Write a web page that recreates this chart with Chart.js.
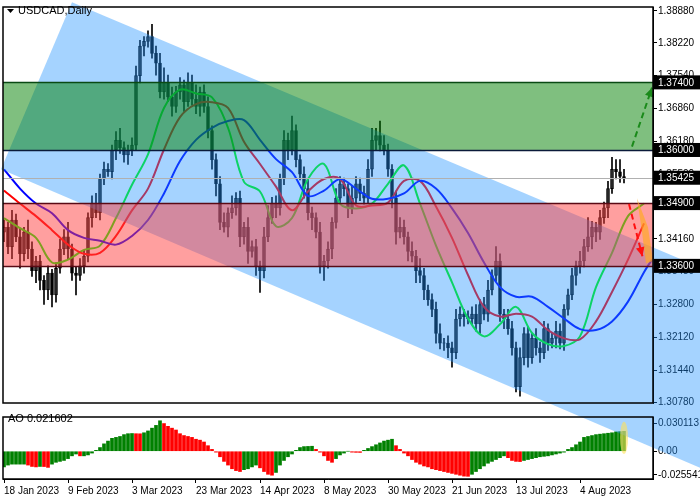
<!DOCTYPE html>
<html>
<head>
<meta charset="utf-8">
<script src="https://cdn.jsdelivr.net/npm/chart.js@4.4.0/dist/chart.umd.min.js"></script>
<style>
  body { margin: 0; background: #fff; }
  #wrap { position: relative; width: 700px; height: 500px; }
  canvas { position: absolute; left: 0; }
</style>
</head>
<body>
<div id="wrap">
  <canvas id="price" width="700" height="410" style="top:0"></canvas>
  <canvas id="ao" width="700" height="90" style="top:410px"></canvas>
</div>
<script>
// --- data --- //
const dateLabels = ['18 Jan 2023', '9 Feb 2023', '3 Mar 2023', '23 Mar 2023', '14 Apr 2023',
    '8 May 2023', '30 May 2023', '21 Jun 2023', '13 Jul 2023', '4 Aug 2023'];
const dateIndex = [0, 16, 32, 48, 64, 80, 96, 112, 128, 144];

const firstOpen = 1.3430;
const closes = [
    1.3440, 1.3400, 1.3455, 1.3420, 1.3385, 1.3430, 1.3395, 1.3350, 1.3370, 1.3330,
    1.3310, 1.3345, 1.3300, 1.3355, 1.3395, 1.3420, 1.3395, 1.3345, 1.3340, 1.3360,
    1.3380, 1.3460, 1.3490, 1.3470, 1.3540, 1.3560, 1.3555, 1.3600, 1.3620, 1.3605,
    1.3590, 1.3600, 1.3610, 1.3754, 1.3815, 1.3825, 1.3835, 1.3800, 1.3780, 1.3720,
    1.3740, 1.3710, 1.3690, 1.3720, 1.3735, 1.3700, 1.3740, 1.3705, 1.3690, 1.3720,
    1.3690, 1.3640, 1.3580, 1.3530, 1.3450, 1.3440, 1.3470, 1.3480, 1.3500, 1.3420,
    1.3440, 1.3390, 1.3400, 1.3360, 1.3350, 1.3420, 1.3460, 1.3490, 1.3480, 1.3540,
    1.3620, 1.3600, 1.3640, 1.3580, 1.3550, 1.3520, 1.3470, 1.3460, 1.3430, 1.3360,
    1.3370, 1.3395, 1.3450, 1.3500, 1.3530, 1.3520, 1.3480, 1.3500, 1.3530, 1.3510,
    1.3500, 1.3560, 1.3620, 1.3630, 1.3610, 1.3600, 1.3560, 1.3500, 1.3430, 1.3440,
    1.3420, 1.3390, 1.3380, 1.3350, 1.3340, 1.3310, 1.3290, 1.3270, 1.3220, 1.3200,
    1.3200, 1.3190, 1.3180, 1.3250, 1.3260, 1.3255, 1.3250, 1.3260, 1.3240, 1.3280,
    1.3260, 1.3310, 1.3340, 1.3370, 1.3260, 1.3250, 1.3230, 1.3190, 1.3110, 1.3170,
    1.3220, 1.3170, 1.3210, 1.3190, 1.3180, 1.3230, 1.3200, 1.3210, 1.3225, 1.3200,
    1.3270, 1.3300, 1.3340, 1.3360, 1.3370, 1.3400, 1.3420, 1.3440, 1.3430, 1.3460,
    1.3480, 1.3520, 1.3560, 1.3555, 1.3545, 1.3542
];
// wick lengths in pips above / below the body
const upWick = [
    15, 10, 20, 12, 18, 10, 25, 15, 10, 12,   10, 15, 8, 12, 20, 15, 30, 10, 12, 15,
    12, 10, 15, 20, 10, 15, 12, 10, 18, 25,   12, 10, 15, 20, 12, 10, 12, 25, 15, 20,
    30, 15, 20, 12, 15, 10, 20, 15, 30, 10,   15, 20, 10, 12, 15, 20, 10, 25, 12, 15,
    10, 20, 12, 15, 10, 20, 25, 12, 15, 10,   20, 15, 30, 12, 10, 15, 20, 12, 10, 20,
    12, 15, 10, 20, 15, 12, 10, 25, 15, 12,   15, 20, 25, 15, 30, 20, 12, 10, 15, 20,
    15, 10, 20, 12, 25, 15, 10, 12, 15, 20,   10, 15, 12, 20, 15, 10, 12, 15, 20, 10,
    15, 20, 12, 30, 15, 10, 20, 15, 12, 20,   12, 15, 10, 20, 12, 15, 10, 12, 20, 15,
    10, 12, 15, 10, 20, 15, 40, 12, 10, 15,   12, 15, 25, 20, 25, 15
];
const downWick = [
    20, 15, 25, 10, 30, 15, 20, 12, 25, 20,   30, 20, 25, 15, 10, 12, 20, 15, 40, 10,
    15, 12, 20, 10, 15, 12, 10, 15, 20, 12,   15, 20, 12, 10, 15, 20, 12, 10, 25, 12,
    15, 10, 20, 12, 15, 20, 10, 12, 15, 20,   12, 15, 20, 25, 15, 10, 20, 12, 15, 20,
    15, 25, 12, 20, 45, 15, 10, 12, 20, 15,   12, 20, 10, 15, 12, 20, 15, 25, 12, 15,
    30, 15, 20, 12, 10, 15, 20, 12, 10, 15,   12, 10, 15, 20, 12, 10, 15, 20, 25, 12,
    15, 20, 12, 25, 15, 20, 12, 15, 20, 12,   15, 20, 30, 12, 15, 20, 10, 12, 15, 20,
    12, 15, 10, 12, 15, 20, 12, 15, 11, 20,   15, 20, 12, 15, 20, 12, 15, 10, 20, 12,
    15, 12, 10, 20, 15, 12, 10, 25, 20, 15,   12, 20, 10, 15, 12, 10
];

// alligator lines, sampled every 4 bars (jaw / teeth / lips)
const lineStep = 4;
const jaw = [
    1.3560, 1.3520, 1.3489, 1.3469, 1.3434, 1.3418, 1.3412, 1.3404, 1.3422, 1.3455,
    1.3510, 1.3577, 1.3621, 1.3646, 1.3660, 1.3662, 1.3621, 1.3581, 1.3554, 1.3505,
    1.3516, 1.3540, 1.3520, 1.3499, 1.3499, 1.3510, 1.3536, 1.3520, 1.3479, 1.3428,
    1.3367, 1.3316, 1.3296, 1.3296, 1.3275, 1.3251, 1.3229, 1.3227, 1.3245, 1.3286,
    1.3347, 1.3373
];
const teeth = [
    1.3516, 1.3489, 1.3463, 1.3434, 1.3404, 1.3385, 1.3387, 1.3422, 1.3475, 1.3520,
    1.3601, 1.3668, 1.3695, 1.3699, 1.3687, 1.3617, 1.3571, 1.3524, 1.3475, 1.3514,
    1.3540, 1.3540, 1.3485, 1.3485, 1.3491, 1.3536, 1.3536, 1.3483, 1.3418, 1.3341,
    1.3275, 1.3255, 1.3261, 1.3255, 1.3227, 1.3210, 1.3208, 1.3245, 1.3306, 1.3373,
    1.3448
];
const lips = [
    1.3459, 1.3438, 1.3418, 1.3367, 1.3373, 1.3393, 1.3402, 1.3459, 1.3528, 1.3591,
    1.3687, 1.3725, 1.3717, 1.3709, 1.3646, 1.3534, 1.3514, 1.3442, 1.3459, 1.3540,
    1.3571, 1.3489, 1.3479, 1.3489, 1.3530, 1.3568, 1.3489, 1.3402, 1.3326, 1.3251,
    1.3214, 1.3239, 1.3275, 1.3221, 1.3198, 1.3194, 1.3214, 1.3316, 1.3387, 1.3463,
    1.3489
];

const aoValues = [
    -0.017, -0.015, -0.014, -0.014, -0.014, -0.014, -0.015, -0.0165, -0.017, -0.0165,
    -0.0166, -0.0175, -0.014, -0.012, -0.011, -0.010, -0.008, -0.005, -0.003, -0.005,
    -0.005, -0.004, -0.002, 0.001, 0.004, 0.008, 0.011, 0.014, 0.015, 0.016,
    0.018, 0.019, 0.0192, 0.019, 0.0189, 0.020, 0.022, 0.025, 0.028, 0.033,
    0.030, 0.027, 0.025, 0.023, 0.019, 0.017, 0.016, 0.015, 0.013, 0.012,
    0.010, 0.006, 0.002, -0.001, -0.006, -0.011, -0.015, -0.019, -0.021, -0.022,
    -0.020, -0.019, -0.017, -0.015, -0.018, -0.022, -0.025, -0.026, -0.023, -0.015,
    -0.010, -0.006, -0.003, 0.001, 0.004, 0.005, 0.0052, 0.0054, 0.002, -0.001,
    -0.005, -0.010, -0.012, -0.008, -0.004, -0.002, 0.0, -0.001, -0.0012, -0.0013,
    0.001, 0.003, 0.005, 0.007, 0.009, 0.011, 0.012, 0.013, 0.006, 0.002,
    -0.002, -0.005, -0.009, -0.012, -0.014, -0.016, -0.017, -0.019, -0.020, -0.021,
    -0.022, -0.023, -0.024, -0.025, -0.026, -0.027, -0.0272, -0.025, -0.022, -0.019,
    -0.016, -0.013, -0.011, -0.009, -0.007, -0.005, -0.007, -0.010, -0.011, -0.0112,
    -0.010, -0.009, -0.008, -0.007, -0.006, -0.0055, -0.005, -0.004, -0.003, -0.002,
    -0.001, 0.002, 0.004, 0.007, 0.010, 0.015, 0.016, 0.017, 0.018, 0.0185,
    0.019, 0.0195, 0.020, 0.021, 0.0212, 0.0216
];

const priceTicks = [1.3078, 1.3144, 1.3212, 1.3280, 1.3348, 1.3416, 1.3482, 1.3550, 1.3618, 1.3686, 1.3754, 1.3822, 1.3888];
const aoTicks = [0.030113, 0, -0.025541];
const greenZone = [1.3600, 1.3740];
const redZone = [1.3360, 1.3490];
const lastPrice = 1.35425;

// --- build datasets --- //
const pip = 0.0001;
const opens = closes.map((c, i) => i === 0 ? firstOpen : closes[i - 1]);
const bodies = closes.map((c, i) => ({ x: i, y: [opens[i], c === opens[i] ? c + 0.00004 : c] }));
const wicks = closes.map((c, i) => ({
    x: i,
    y: [Math.min(opens[i], c) - downWick[i] * pip, Math.max(opens[i], c) + upWick[i] * pip]
}));
const bodyFill = closes.map((c, i) => c >= opens[i] ? '#ffffff' : '#000000');
const sampled = arr => arr.map((v, k) => ({ x: k * lineStep, y: v }));
const jawPts = sampled(jaw);
jawPts[jawPts.length - 1].x = 162;

const font = { family: 'Liberation Sans', size: 10 };
const X_MIN = -0.25, X_MAX = 162.25;

function channel(ctx, xs, ys, dy) {
    const pts = [[17, 1.3906], [174, 1.3357], [174, 1.2942], [-0.75, 1.3560]];
    ctx.beginPath();
    pts.forEach(([i, p], k) => {
        const px = xs.getPixelForValue(i), py = ys.getPixelForValue(p) - dy;
        k ? ctx.lineTo(px, py) : ctx.moveTo(px, py);
    });
    ctx.closePath();
    ctx.fillStyle = 'rgba(30,144,255,0.4)';
    ctx.fill();
}

function dashedArrow(ctx, x1, y1, x2, y2, color) {
    ctx.save();
    ctx.strokeStyle = color; ctx.fillStyle = color; ctx.lineWidth = 2;
    ctx.setLineDash([6, 4]);
    ctx.beginPath(); ctx.moveTo(x1, y1); ctx.lineTo(x2, y2); ctx.stroke();
    ctx.setLineDash([]);
    const a = Math.atan2(y2 - y1, x2 - x1);
    ctx.beginPath();
    ctx.moveTo(x2, y2);
    ctx.lineTo(x2 - 10 * Math.cos(a - 0.45), y2 - 10 * Math.sin(a - 0.45));
    ctx.lineTo(x2 - 10 * Math.cos(a + 0.45), y2 - 10 * Math.sin(a + 0.45));
    ctx.closePath(); ctx.fill();
    ctx.restore();
}

const overlayPlugin = {
    id: 'overlay',
    afterDatasetsDraw(chart) {
        const { ctx, chartArea: a, scales: { x: xs, y: ys } } = chart;
        ctx.save();
        channel(ctx, xs, ys, 0);
        const zone = (r, fill) => {
            ctx.fillStyle = fill;
            ctx.fillRect(a.left, ys.getPixelForValue(r[1]), a.right - a.left, ys.getPixelForValue(r[0]) - ys.getPixelForValue(r[1]));
        };
        zone(greenZone, 'rgba(0,128,0,0.5)');
        zone(redZone, 'rgba(255,64,64,0.5)');
        const hline = (p, color) => {
            const y = Math.round(ys.getPixelForValue(p)) + 0.5;
            ctx.strokeStyle = color; ctx.lineWidth = 1.5;
            ctx.beginPath(); ctx.moveTo(a.left, y); ctx.lineTo(a.right, y); ctx.stroke();
        };
        hline(greenZone[1], '#0a4a14');
        hline(greenZone[0], '#0a1a3a');
        hline(redZone[1], '#5a0a14');
        hline(redZone[0], '#5a0a14');
        ctx.lineWidth = 1;
        ctx.strokeStyle = '#b0b0b0';
        const ly = Math.round(ys.getPixelForValue(lastPrice)) + 0.5;
        ctx.beginPath(); ctx.moveTo(a.left, ly); ctx.lineTo(a.right, ly); ctx.stroke();

        // forecast marks
        ctx.fillStyle = 'rgba(255,170,30,0.65)';
        ctx.beginPath();
        ctx.moveTo(xs.getPixelForValue(158.25), ys.getPixelForValue(1.3500));
        ctx.lineTo(xs.getPixelForValue(161), ys.getPixelForValue(1.3440));
        ctx.lineTo(xs.getPixelForValue(162.25), ys.getPixelForValue(1.3370));
        ctx.lineTo(xs.getPixelForValue(160.5), ys.getPixelForValue(1.3365));
        ctx.lineTo(xs.getPixelForValue(159.5), ys.getPixelForValue(1.3430));
        ctx.closePath(); ctx.fill();
        dashedArrow(ctx, xs.getPixelForValue(157), ys.getPixelForValue(1.3607),
            xs.getPixelForValue(162), ys.getPixelForValue(1.3729), '#1a8a1a');
        dashedArrow(ctx, xs.getPixelForValue(156.25), ys.getPixelForValue(1.3488),
            xs.getPixelForValue(159.6), ys.getPixelForValue(1.3380), '#ff1010');

        // frame
        ctx.strokeStyle = '#000'; ctx.lineWidth = 1.5;
        ctx.strokeRect(a.left, a.top, a.right - a.left, a.bottom - a.top);

        // level labels on the price axis
        ctx.font = '10px "Liberation Sans"';
        ctx.textBaseline = 'middle';
        [greenZone[1], greenZone[0], lastPrice, redZone[1], redZone[0]].forEach(p => {
            const y = ys.getPixelForValue(p);
            ctx.fillStyle = '#000';
            ctx.fillRect(a.right + 1, y - 7, 47, 14);
            ctx.fillStyle = '#fff';
            ctx.fillText(p.toFixed(5), a.right + 5, y + 0.5);
        });

        // title
        ctx.fillStyle = '#000';
        ctx.beginPath(); ctx.moveTo(7, 9); ctx.lineTo(14, 9); ctx.lineTo(10.5, 13); ctx.closePath(); ctx.fill();
        ctx.font = '11px "Liberation Sans"';
        ctx.fillText('USDCAD,Daily', 18, 11);
        ctx.restore();
    }
};

const priceChart = new Chart(document.getElementById('price'), {
    type: 'bar',
    data: {
        datasets: [
            { type: 'line', data: jawPts, borderColor: '#0000ff', borderWidth: 2, pointRadius: 0, tension: 0.35 },
            { type: 'line', data: sampled(teeth), borderColor: '#ff0000', borderWidth: 2, pointRadius: 0, tension: 0.35 },
            { type: 'line', data: sampled(lips), borderColor: '#00ff00', borderWidth: 2, pointRadius: 0, tension: 0.35 },
            { data: wicks, backgroundColor: '#000', barThickness: 1, grouped: false },
            { data: bodies, backgroundColor: bodyFill, borderColor: '#000', borderWidth: 1, borderSkipped: false, barThickness: 3, grouped: false }
        ]
    },
    options: {
        responsive: false,
        animation: false,
        devicePixelRatio: 1,
        layout: { padding: { left: 3, top: 5, right: 0, bottom: 2 } },
        plugins: { legend: { display: false }, tooltip: { enabled: false } },
        scales: {
            x: { type: 'linear', display: false, offset: false, min: X_MIN, max: X_MAX },
            y: {
                position: 'right',
                min: 1.3076, max: 1.38961,
                afterBuildTicks: s => { s.ticks = priceTicks.map(v => ({ value: v })); },
                afterFit: s => { s.width = 47; },
                ticks: { color: '#000', font, padding: 1, callback: v => v.toFixed(5) },
                grid: { drawOnChartArea: false, tickLength: 4, color: '#000' },
                border: { color: '#000' }
            }
        }
    },
    plugins: [overlayPlugin]
});

const aoColors = aoValues.map((v, i) => (i === 0 || v >= aoValues[i - 1]) ? '#008000' : '#ff0000');

const aoPlugin = {
    id: 'aoOverlay',
    afterDatasetsDraw(chart) {
        const { ctx, chartArea: a, scales: { x: xs, y: ys } } = chart;
        ctx.save();
        channel(ctx, priceChart.scales.x, priceChart.scales.y, 410);
        ctx.fillStyle = 'rgba(255,225,90,0.6)';
        ctx.beginPath();
        ctx.ellipse(xs.getPixelForValue(155), ys.getPixelForValue(0.0145), 4, 16, 0, 0, Math.PI * 2);
        ctx.fill();
        ctx.strokeStyle = '#000'; ctx.lineWidth = 1.5;
        ctx.strokeRect(a.left, a.top, a.right - a.left, a.bottom - a.top);
        ctx.fillStyle = '#000';
        ctx.font = '11px "Liberation Sans"';
        ctx.textBaseline = 'middle';
        ctx.fillText('AO 0.021602', 8, 9);
        ctx.restore();
    }
};

new Chart(document.getElementById('ao'), {
    type: 'bar',
    data: {
        datasets: [{
            data: aoValues.map((v, i) => ({ x: i, y: v })),
            backgroundColor: aoColors,
            barThickness: 3
        }]
    },
    options: {
        responsive: false,
        animation: false,
        devicePixelRatio: 1,
        layout: { padding: { left: 3, top: 1, right: 0, bottom: 0 } },
        plugins: { legend: { display: false }, tooltip: { enabled: false } },
        scales: {
            x: {
                type: 'linear', offset: false, min: X_MIN, max: X_MAX,
                afterBuildTicks: s => { s.ticks = dateIndex.map(v => ({ value: v })); },
                afterFit: s => { s.height = 21; },
                ticks: {
                    color: '#000', font, align: 'start', padding: 2, maxRotation: 0, autoSkip: false,
                    callback: v => dateLabels[dateIndex.indexOf(v)]
                },
                grid: { drawOnChartArea: false, tickLength: 4, color: '#000', offset: false },
                border: { color: '#000' }
            },
            y: {
                position: 'right',
                min: -0.0301, max: 0.0371,
                afterBuildTicks: s => { s.ticks = aoTicks.map(v => ({ value: v })); },
                afterFit: s => { s.width = 47; },
                ticks: { color: '#000', font, padding: 1, callback: v => v === 0 ? '0.00' : v.toFixed(6) },
                grid: { drawOnChartArea: false, tickLength: 4, color: '#000' },
                border: { color: '#000' }
            }
        }
    },
    plugins: [aoPlugin]
});
</script>
</body>
</html>
